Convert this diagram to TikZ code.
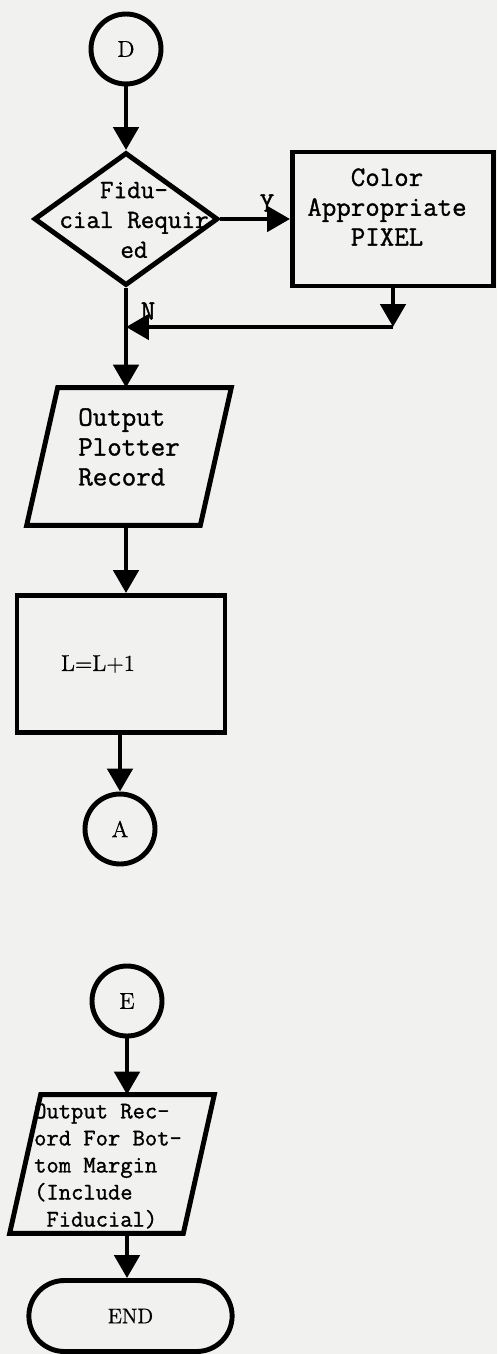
\documentclass[tikz,border=0pt]{standalone}
\usepackage{fontspec}
\newfontfamily\typew{Latin Modern Mono}[FakeBold=1.2]
\newfontfamily\romw{Latin Modern Roman}[FakeBold=0.8]
\usetikzlibrary{arrows.meta,shapes.geometric,shapes.misc,calc}
\definecolor{paper}{RGB}{241,241,239}
% slanted frame round an io node
\newcommand{\ioframe}[1]{\draw[line] ([xshift=-0.31cm]#1.south west) -- ([xshift=-0.31cm]#1.south east)
  -- ([xshift=0.31cm]#1.north east) -- ([xshift=0.31cm]#1.north west) -- cycle;}

\tikzset{
  line/.style={line width=2.8pt},
  flow/.style={line, -{Triangle[width=0.5cm,length=0.46cm]}},
  conn/.style={circle, draw, line, minimum size=1.4cm, inner sep=0pt, font=\romw\fontsize{13}{14}\selectfont},
  process/.style={rectangle, draw, line, inner sep=2pt},
  decision/.style={diamond, draw, line, inner sep=0pt},
  iobox/.style={rectangle, inner sep=0pt, minimum width=3.46cm},
  term/.style={rounded rectangle, draw, line, font=\romw\fontsize{12}{13}\selectfont},
  tt16/.style={font=\typew\fontsize{16}{17}\selectfont, align=center, inner sep=0pt},
  yn/.style={font=\typew\fontsize{16}{16}\selectfont, inner sep=0pt},
}

\begin{document}
\begin{tikzpicture}[x=0.02cm,y=-0.02cm]
\useasboundingbox (0,0) rectangle (497,1354);
\fill[paper] (0,0) rectangle (497,1354);
% first page
\node[conn] (d) at (126,49) {D};
\node[decision, minimum width=3.68cm, minimum height=2.66cm] (fid) at (126,219) {};
\node[tt16, font=\typew\fontsize{15}{17}\selectfont] (fidtxt) at (134,220) {Fidu-\\cial Requir\\ed};
\node[process, minimum width=4.02cm, minimum height=2.68cm] (pix) at (393,219) {};
\node[tt16] (pixtxt) at (387,207) {Color\\Appropriate\\PIXEL};
\node[iobox, minimum height=2.74cm] (out) at (129,456.5) {};
\ioframe{out}
\node[tt16, align=left] (outtxt) at (129,447) {Output\\Plotter\\Record};
\node[process, font=\romw\fontsize{13}{14}\selectfont, text width=2.4cm, align=left,
  minimum width=4.16cm, minimum height=2.74cm] (inc) at (121,664) {L=L+1};
\node[conn] (a) at (120,829) {A};
\node[yn] (ylab) at (267,203) {Y};
\node[yn] (nlab) at (148,311) {N};
\coordinate (join) at (126,327);
\coordinate (corner) at (pix.south |- join);
\draw[flow] (d) -- (fid.north);
\draw[flow] (fid.east) -- (pix.west);
\draw[flow] (pix.south) -- (corner);
\draw[flow] (corner) -- (join);
\draw[flow] (fid.south) -- (fid.south |- out.north);
\draw[flow] (fid.south |- out.south) -- (fid.south |- inc.north);
\draw[flow] (a.north |- inc.south) -- (a.north);
% bottom margin
\node[conn] (e) at (127,1001) {E};
\node[iobox, minimum height=2.76cm] (bot) at (112,1164) {};
\ioframe{bot}
\node[font=\typew\fontsize{13.6}{15.4}\selectfont, align=left, inner sep=0pt] (bottxt) at (108,1166)
  {Output Rec-\\ord For Bot-\\tom Margin\\(Include\\~Fiducial)};
\node[term, minimum width=4.3cm, minimum height=1.42cm] (fin) at (130.5,1316) {END};
\draw[flow] (e) -- (e.south |- bot.north);
\draw[flow] (e.south |- bot.south) -- (e.south |- fin.north);
\end{tikzpicture}
\end{document}
